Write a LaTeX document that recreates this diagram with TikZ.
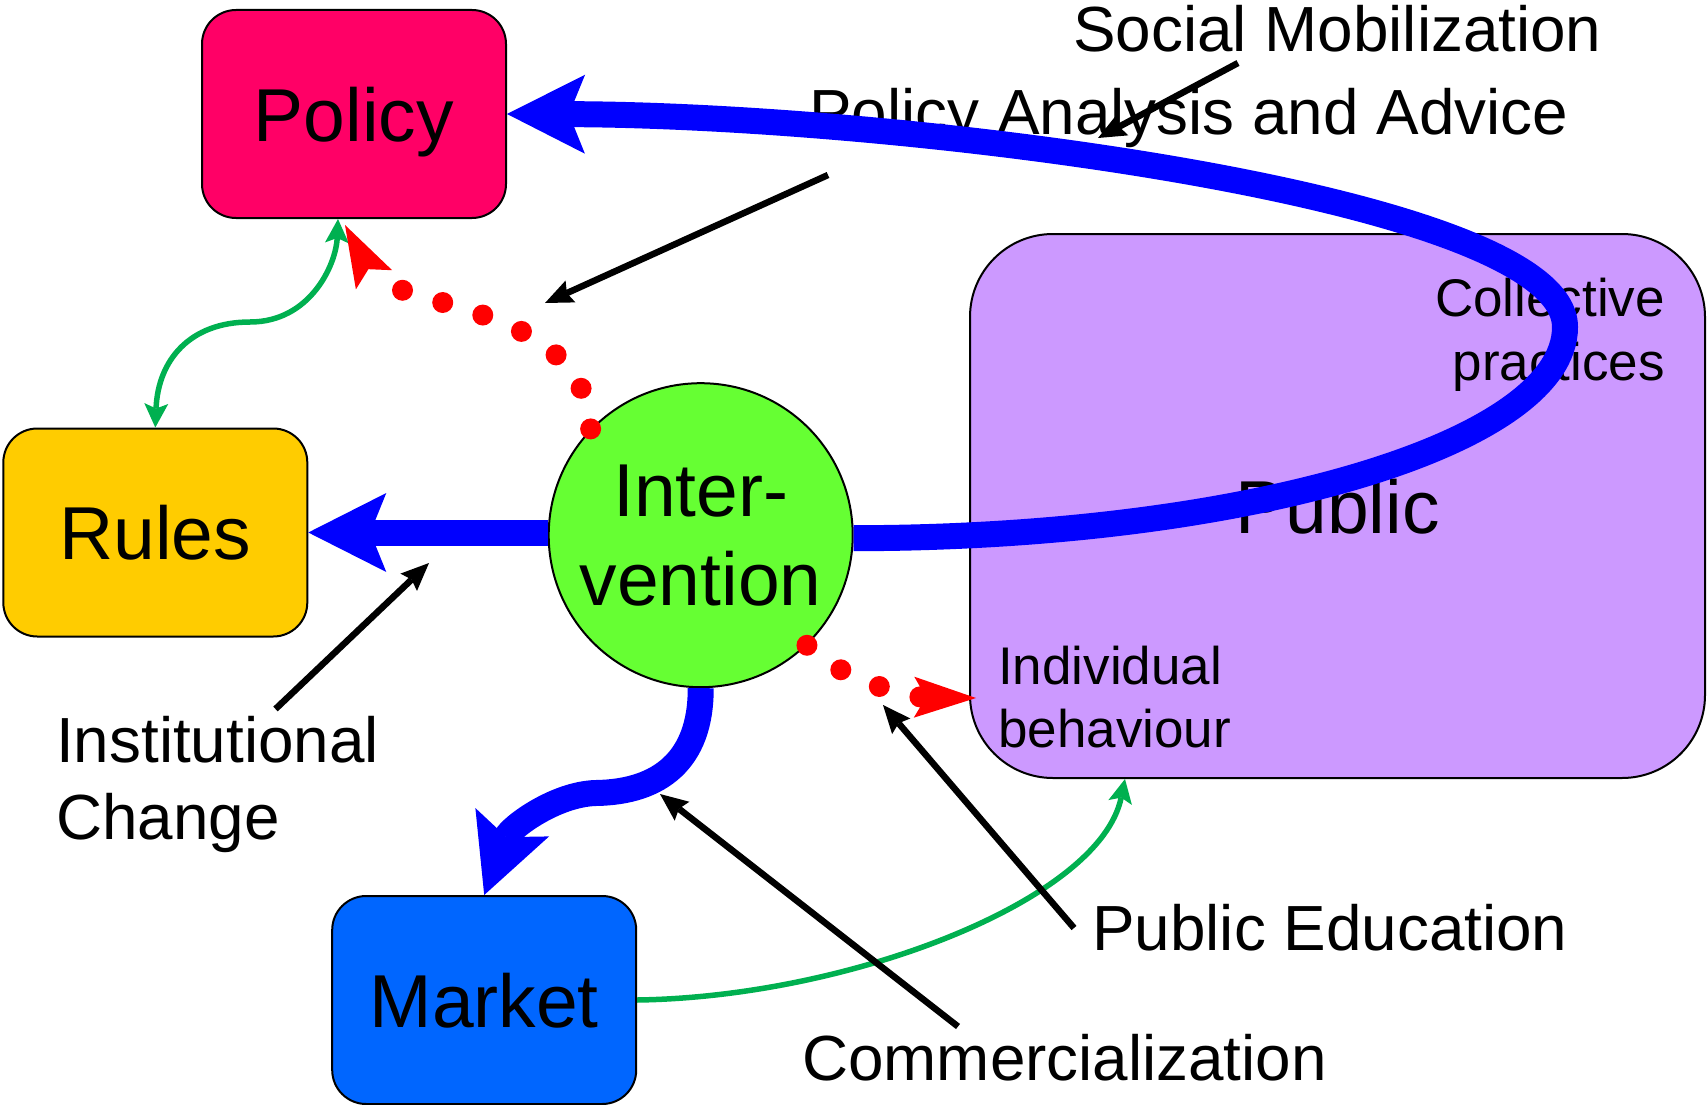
\documentclass[tikz,border=0pt]{standalone}
\usepackage{fontspec}
\setmainfont{Liberation Sans}
\usetikzlibrary{arrows.meta,calc}
\definecolor{cpolicy}{HTML}{FF0066}
\definecolor{crules}{HTML}{FFCC00}
\definecolor{cmarket}{HTML}{0066FF}
\definecolor{cpublic}{HTML}{CC99FF}
\definecolor{cint}{HTML}{66FF33}
\definecolor{cblue}{HTML}{0000FF}
\definecolor{cred}{HTML}{FF0000}
\definecolor{cgreen}{HTML}{00B050}
\newcommand\myBig{\fontsize{75}{89}\selectfont}
\newcommand\myMid{\fontsize{63.8}{76.8}\selectfont}
\newcommand\mySmall{\fontsize{53}{63.3}\selectfont}
\tikzset{
  btip/.tip={Stealth[length=78pt,width=79pt,inset=16pt,line width=0pt]},
  rtip/.tip={Stealth[length=62pt,width=41pt,inset=12pt,line width=0pt]},
  gtip/.tip={Stealth[length=24pt,width=24pt,inset=5pt,line width=0pt]},
  ktip/.tip={Stealth[length=28pt,width=24pt,inset=4pt,line width=0pt]},
  box/.style={draw=black, line width=2pt, rounded corners=34pt, minimum width=304pt,
    minimum height=208pt, inner sep=0pt, text depth=0pt, font=\myBig},
  lbl/.style={inner sep=0pt, font=\myMid},
  sublbl/.style={inner sep=0pt, font=\mySmall},
  bluearrow/.style={draw=cblue, line width=26pt, -{btip}},
  reddots/.style={draw=cred, line width=21pt, line cap=round, dash pattern=on 0pt off 42pt, -{rtip}},
  garrow/.style={draw=cgreen, line width=5.5pt, -{gtip}},
  gboth/.style={draw=cgreen, line width=5.5pt, {gtip}-{gtip}},
  kptr/.style={draw=black, line width=6.5pt, -{ktip}},
}
\begin{document}
\begin{tikzpicture}[x=1pt,y=-1pt]
\useasboundingbox (0,0) rectangle (1708,1105);
% public area
\node[box, fill=cpublic, minimum width=735pt, minimum height=544pt, rounded corners=83pt] (public) at (1337.5,506) {Public};
\node[sublbl, anchor=base east, align=right] (coll) at (1665,380) {Collective\\practices};
\node[sublbl, anchor=base west, align=left] (indiv) at (998,747.3) {Individual\\behaviour};
% boxes
\node[box, fill=cpolicy] (policy) at (354,114) {Policy};
\node[box, fill=crules] (rules) at (155.3,532.5) {Rules};
\node[box, fill=cmarket] (market) at (484.2,1000) {Market};
\node[circle, draw=black, line width=2pt, fill=cint, minimum size=304pt, inner sep=0pt,
  align=center, font=\myBig] (int) at (700.7,535.2) {Inter-\\vention};
% labels
\node[lbl, anchor=base west] (smob) at (1073,52) {Social Mobilization};
\node[lbl, anchor=base west] (paa) at (809,135) {Policy Analysis and Advice};
\node[lbl, anchor=base west, align=left] (ic) at (56,839.5) {Institutional\\Change};
\node[lbl, anchor=base west] (pe) at (1092,950) {Public Education};
\node[lbl, anchor=base west] (comm) at (802,1080) {Commercialization};
% green connectors
\draw[gboth] (rules.north) .. controls (158,360) and (190,322) .. (250,322)
  .. controls (310,322) and (336,265) .. ([xshift=-16pt]policy.south);
\draw[garrow] (market.east) .. controls (850,997) and (1100,900) .. ([xshift=-212.5pt]public.south);
% blue connectors
\draw[bluearrow] ([yshift=-3pt]int.east) .. controls (1247,538) and (1565,443.5) .. (1565,327)
  .. controls (1565,197) and (900,115) .. (policy.east);
\draw[bluearrow] (int.west |- rules.east) -- (rules.east);
\draw[bluearrow] (int.south) .. controls (701,760) and (660,792) .. (596,793)
  .. controls (555,794) and (510,828) .. (market.north);
% red dotted connectors
\draw[reddots] (int.136) .. controls (585,300) and (390,310) .. ([xshift=-9pt,yshift=-6pt]policy.south);
\draw[reddots] (int.-46) .. controls (830,672) and (900,697) .. ([xshift=7pt,yshift=81pt]public.south west);
% pointer arrows
\coordinate (smobS) at (1238,63);   \coordinate (smobT) at (1098,138);
\coordinate (paaS) at (828,175);    \coordinate (paaT) at (545,303);
\coordinate (icS) at (275.5,709);   \coordinate (icT) at (429,563);
\coordinate (commS) at (958,1026.5);\coordinate (commT) at (660,794);
\coordinate (peS) at (1074,928);    \coordinate (peT) at (883,705);
\draw[kptr] (smobS) -- (smobT);
\draw[kptr] (paaS) -- (paaT);
\draw[kptr] (icS) -- (icT);
\draw[kptr] (commS) -- (commT);
\draw[kptr] (peS) -- (peT);
\end{tikzpicture}
\end{document}
